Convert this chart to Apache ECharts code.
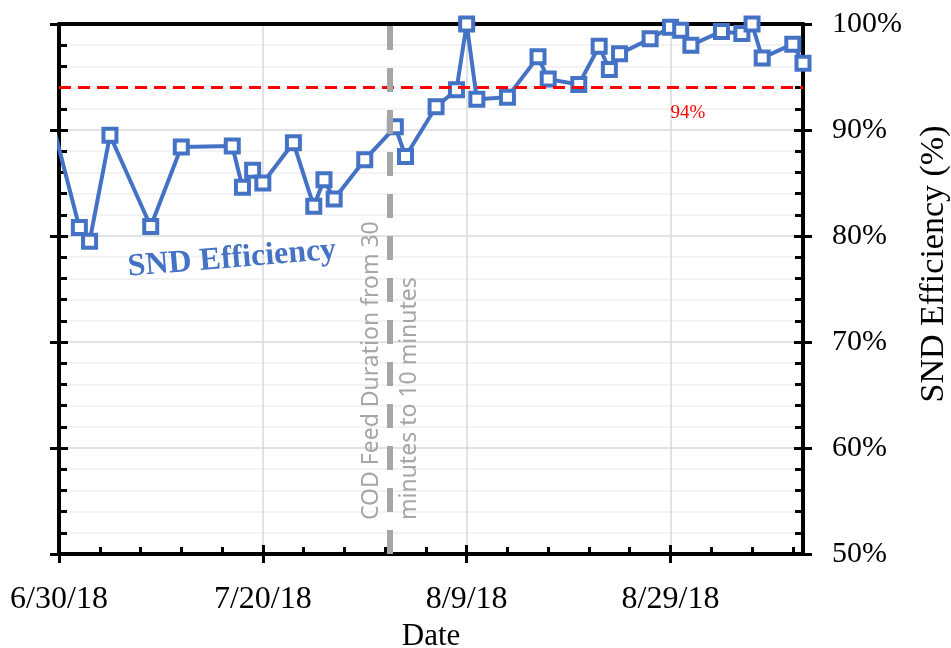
<!DOCTYPE html>
<html lang="en">
<head>
    <meta charset="UTF-8">
    <title>SND Efficiency</title>
    <script src="https://cdn.jsdelivr.net/npm/echarts@6/dist/echarts.min.js"></script>
    <style>
        html, body { margin: 0; padding: 0; background: #fff; }
        #chart { width: 951px; height: 648px; }
    </style>
</head>
<body>
<div id="chart"></div>
<script>
    // sample dates - first one sits just before the axis start and gets clipped
    const sampleDates = [
        '2018-06-29', '2018-07-02', '2018-07-03', '2018-07-05', '2018-07-09', '2018-07-12',
        '2018-07-17', '2018-07-18', '2018-07-19', '2018-07-20', '2018-07-23', '2018-07-25',
        '2018-07-26', '2018-07-27', '2018-07-30', '2018-08-02', '2018-08-03', '2018-08-06',
        '2018-08-08', '2018-08-09', '2018-08-10', '2018-08-13', '2018-08-16', '2018-08-17',
        '2018-08-20', '2018-08-22', '2018-08-23', '2018-08-24', '2018-08-27', '2018-08-29',
        '2018-08-30', '2018-08-31', '2018-09-03', '2018-09-05', '2018-09-06', '2018-09-07',
        '2018-09-10', '2018-09-11'
    ];
    // SND efficiency (%)
    const sndEfficiency = [
        92.0, 80.8, 79.5, 89.5, 80.9, 88.4,
        88.5, 84.6, 86.2, 85.0, 88.8, 82.8,
        85.3, 83.5, 87.2, 90.3, 87.5, 92.2,
        93.8, 100.0, 92.9, 93.1, 96.9, 94.8,
        94.3, 97.9, 95.7, 97.2, 98.6, 99.7,
        99.4, 98.0, 99.3, 99.1, 100.0, 96.8,
        98.1, 96.3
    ];
    const axisStart = '2018-06-30';
    const axisEnd = '2018-09-11';
    const xMajorDays = 20;
    const xMinorDays = 4;
    const yTicks = [50, 60, 70, 80, 90, 100];
    const feedChange = '2018-08-01T10';   // COD feed duration switched
    const targetLevel = 94;

    const BLUE = '#4472C4';
    const SERIF = '"Liberation Serif", "Times New Roman", serif';

    function toUtc(s) {
        const m = s.match(/(\d+)-(\d+)-(\d+)(?:T(\d+))?/);
        return Date.UTC(+m[1], +m[2] - 1, +m[3], m[4] ? +m[4] : 0);
    }
    const base = toUtc(axisStart);
    const dayOf = s => (toUtc(s) - base) / 86400000;

    function dateLabel(v) {
        if (v % xMajorDays !== 0) return '';
        const d = new Date(base + v * 86400000);
        return (d.getUTCMonth() + 1) + '/' + d.getUTCDate() + '/' + String(d.getUTCFullYear()).slice(2);
    }

    const points = sampleDates.map((s, i) => [dayOf(s), sndEfficiency[i]]);
    const xMax = dayOf(axisEnd);
    const yMin = yTicks[0], yMax = yTicks[yTicks.length - 1];

    const chart = echarts.init(document.getElementById('chart'));

    const hidden = { show: false };
    function xAxisBase(extra) {
        return Object.assign({
            type: 'value', min: 0, max: xMax, interval: xMajorDays, position: 'bottom',
            axisLine: { show: false, onZero: false },
            axisTick: hidden, axisLabel: hidden, splitLine: hidden
        }, extra);
    }
    function yAxisBase(extra) {
        return Object.assign({
            type: 'value', min: yMin, max: yMax, interval: 10,
            axisLine: { show: false, onZero: false },
            axisTick: hidden, axisLabel: hidden, splitLine: hidden
        }, extra);
    }

    chart.setOption({
        animation: false,
        grid: { left: 59, right: 148, top: 24, bottom: 94, containLabel: false, outerBoundsMode: 'none' },
        xAxis: [
            xAxisBase({
                axisLine: { show: true, onZero: false, lineStyle: { color: '#000', width: 4 } },
                axisTick: { show: true, inside: false, length: 9, lineStyle: { color: '#000', width: 3 } },
                axisLabel: {
                    show: true, margin: 30, formatter: dateLabel, showMaxLabel: false,
                    fontFamily: SERIF, fontSize: 32, color: '#000'
                },
                splitLine: { show: true, lineStyle: { color: '#d9d9d9', width: 1.5 } },
                name: 'Date', nameLocation: 'middle', nameGap: 63,
                nameTextStyle: { fontFamily: SERIF, fontSize: 31, color: '#000' }
            }),
            xAxisBase({
                axisTick: { show: true, inside: true, length: 9, lineStyle: { color: '#000', width: 3 } }
            }),
            xAxisBase({
                interval: xMinorDays,
                axisTick: { show: true, inside: true, length: 7, lineStyle: { color: '#000', width: 3 } }
            }),
            xAxisBase({
                position: 'top',
                axisLine: { show: true, onZero: false, lineStyle: { color: '#000', width: 4 } }
            })
        ],
        yAxis: [
            yAxisBase({
                position: 'left',
                axisLine: { show: true, onZero: false, lineStyle: { color: '#000', width: 4 } },
                axisTick: { show: true, inside: false, length: 9, lineStyle: { color: '#000', width: 3 } },
                splitLine: { show: true, lineStyle: { color: '#d9d9d9', width: 1.5 } }
            }),
            yAxisBase({
                position: 'left',
                axisTick: { show: true, inside: true, length: 9, lineStyle: { color: '#000', width: 3 } },
                minorTick: { show: true, splitNumber: 5, length: 8, lineStyle: { color: '#000', width: 3 } },
                minorSplitLine: { show: true, lineStyle: { color: '#f0f0f0', width: 1.5 } }
            }),
            yAxisBase({
                position: 'right',
                axisLine: { show: true, onZero: false, lineStyle: { color: '#000', width: 4 } },
                axisTick: { show: true, inside: false, length: 9, lineStyle: { color: '#000', width: 3 } },
                axisLabel: {
                    show: true, margin: 29, formatter: '{value}%',
                    fontFamily: SERIF, fontSize: 30, color: '#000'
                }
            }),
            yAxisBase({
                position: 'right',
                axisTick: { show: true, inside: true, length: 9, lineStyle: { color: '#000', width: 3 } },
                minorTick: { show: true, splitNumber: 5, length: 8, lineStyle: { color: '#000', width: 3 } }
            })
        ],
        series: [
            {
                // reference lines, kept under the data
                type: 'line', data: [], z: 1, silent: true,
                markLine: {
                    silent: true, symbol: 'none', animation: false,
                    label: { show: false },
                    data: [
                        { yAxis: targetLevel, lineStyle: { color: '#ff0000', width: 3, type: [12, 7] } },
                        { xAxis: dayOf(feedChange), lineStyle: { color: '#a6a6a6', width: 6, type: [24, 18] } }
                    ]
                }
            },
            {
                name: 'SND Efficiency', type: 'line', data: points, z: 3,
                clip: true,
                lineStyle: { color: BLUE, width: 4 },
                symbol: 'rect', symbolSize: 13, showAllSymbol: true,
                itemStyle: { color: '#fff', borderColor: BLUE, borderWidth: 4 }
            }
        ],
        graphic: [
            {
                // right axis title (sits a bit above the plot centre in the original)
                type: 'text', x: 934, y: 264, rotation: Math.PI / 2, z: 10,
                style: {
                    text: 'SND Efficiency (%)', fill: '#000', fontFamily: SERIF, fontSize: 34,
                    align: 'center', verticalAlign: 'middle'
                }
            },
            {
                type: 'text', x: 232, y: 259, rotation: 0.082, z: 10,
                style: {
                    text: 'SND Efficiency', fill: BLUE, fontFamily: SERIF, fontWeight: 'bold', fontSize: 32,
                    align: 'center', verticalAlign: 'middle'
                }
            },
            {
                type: 'text', x: 688, y: 113, z: 10,
                style: {
                    text: targetLevel + '%', fill: '#ff0000', fontFamily: SERIF, fontSize: 19,
                    align: 'center', verticalAlign: 'middle'
                }
            },
            {
                type: 'text', x: 390, y: 520, rotation: Math.PI / 2, z: 10,
                style: {
                    text: 'COD Feed Duration from 30\nminutes to 10 minutes', fill: '#a6a6a6',
                    fontFamily: '"Noto Sans", "Open Sans", sans-serif', fontSize: 23, lineHeight: 38,
                    align: 'left', verticalAlign: 'middle'
                }
            }
        ]
    });
</script>
</body>
</html>
